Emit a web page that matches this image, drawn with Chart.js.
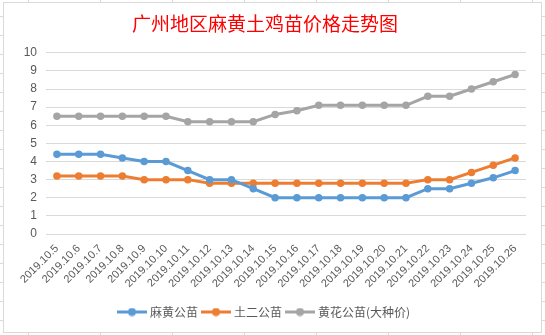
<!DOCTYPE html>
<html>
<head>
<meta charset="utf-8">
<script src="https://cdn.jsdelivr.net/npm/chart.js@4"></script>
<style>
  html, body { margin: 0; padding: 0; background: #ffffff; }
  #wrap { width: 545px; height: 335px; }
</style>
</head>
<body>
<div id="wrap"><canvas id="priceChart" width="545" height="335"></canvas></div>
<script>
// 日期
const dates = ['2019.10.5', '2019.10.6', '2019.10.7', '2019.10.8', '2019.10.9', '2019.10.10',
    '2019.10.11', '2019.10.12', '2019.10.13', '2019.10.14', '2019.10.15', '2019.10.16',
    '2019.10.17', '2019.10.18', '2019.10.19', '2019.10.20', '2019.10.21', '2019.10.22',
    '2019.10.23', '2019.10.24', '2019.10.25', '2019.10.26'];

// 价格 (元/只)
const mahuang = [4.4, 4.4, 4.4, 4.2, 4.0, 4.0, 3.5, 3.0, 3.0, 2.5, 2.0, 2.0,
    2.0, 2.0, 2.0, 2.0, 2.0, 2.5, 2.5, 2.8, 3.1, 3.5];
const tuer = [3.2, 3.2, 3.2, 3.2, 3.0, 3.0, 3.0, 2.8, 2.8, 2.8, 2.8, 2.8,
    2.8, 2.8, 2.8, 2.8, 2.8, 3.0, 3.0, 3.4, 3.8, 4.2];
const huanghua = [6.5, 6.5, 6.5, 6.5, 6.5, 6.5, 6.2, 6.2, 6.2, 6.2, 6.6, 6.8,
    7.1, 7.1, 7.1, 7.1, 7.1, 7.6, 7.6, 8.0, 8.4, 8.8];

const seriesNames = ['麻黄公苗', '土二公苗', '黄花公苗(大种价)'];
const seriesColors = ['#5B9BD5', '#ED7D31', '#A5A5A5'];
const yTicks = [0, 10, 1]; // min, max, step

const cjkFont = '"Noto Sans CJK SC", "Microsoft YaHei", sans-serif';
const gridColor = '#d9d9d9';
const textColor = '#595959';

// legend marker: short line with a dot, like Excel
function legendMarker(color) {
    const c = document.createElement('canvas');
    c.width = 30;
    c.height = 9;
    const ctx = c.getContext('2d');
    ctx.strokeStyle = color;
    ctx.lineWidth = 3;
    ctx.beginPath();
    ctx.moveTo(0, 4.5);
    ctx.lineTo(30, 4.5);
    ctx.stroke();
    ctx.fillStyle = color;
    ctx.beginPath();
    ctx.arc(15, 4.5, 4, 0, Math.PI * 2);
    ctx.fill();
    return c;
}

// spreadsheet background + chart frame
const sheetBackground = {
    id: 'sheetBackground',
    beforeDraw(chart) {
        const ctx = chart.ctx;
        ctx.save();
        ctx.fillStyle = '#ffffff';
        ctx.fillRect(0, 0, chart.width, chart.height);
        ctx.strokeStyle = '#dadada';
        ctx.lineWidth = 1;
        for (let x = 28; x < chart.width; x += 72) {
            ctx.beginPath(); ctx.moveTo(x + 0.5, 0); ctx.lineTo(x + 0.5, chart.height); ctx.stroke();
        }
        for (let y = 16; y < chart.height; y += 19) {
            ctx.beginPath(); ctx.moveTo(0, y + 0.5); ctx.lineTo(chart.width, y + 0.5); ctx.stroke();
        }
        ctx.fillStyle = '#ffffff';
        ctx.fillRect(3, 2, 538, 330);
        ctx.strokeStyle = '#d9d9d9';
        ctx.strokeRect(3.5, 2.5, 538, 330);
        ctx.restore();
    }
};

const datasets = [mahuang, tuer, huanghua].map(function(values, i) {
    return {
        label: seriesNames[i],
        data: values,
        borderColor: seriesColors[i],
        backgroundColor: seriesColors[i],
        borderWidth: 3,
        pointRadius: 3,
        pointBorderWidth: 1.5,
        pointHoverRadius: 3,
        tension: 0
    };
});

new Chart(document.getElementById('priceChart'), {
    type: 'line',
    data: { labels: dates, datasets: datasets },
    plugins: [sheetBackground],
    options: {
        responsive: false,
        animation: false,
        layout: { padding: { left: 4, right: 19, top: 12, bottom: 7 } },
        scales: {
            x: {
                offset: true,
                grid: { display: false, drawTicks: false },
                border: { display: false },
                ticks: {
                    autoSkip: false,
                    maxRotation: 45,
                    minRotation: 45,
                    padding: 8,
                    color: textColor,
                    font: { family: '"Liberation Sans", Arial, sans-serif', size: 11 }
                },
                afterFit: function(scale) { scale.height = 66; }
            },
            y: {
                min: yTicks[0],
                max: yTicks[1],
                ticks: {
                    stepSize: yTicks[2],
                    padding: 9,
                    color: textColor,
                    font: { family: '"Liberation Sans", Arial, sans-serif', size: 12 }
                },
                grid: { color: gridColor, drawTicks: false },
                border: { display: false },
                afterFit: function(scale) { scale.width = 42; }
            }
        },
        plugins: {
            title: {
                display: true,
                text: '广州地区麻黄土鸡苗价格走势图',
                color: '#ff0000',
                font: { family: cjkFont, size: 19, weight: 'normal', lineHeight: 1.2 },
                padding: { top: 0, bottom: 18 }
            },
            legend: {
                position: 'bottom',
                labels: {
                    usePointStyle: true,
                    pointStyleWidth: 24,
                    padding: 6,
                    color: textColor,
                    font: { family: cjkFont, size: 12 },
                    generateLabels: function(chart) {
                        const items = Chart.defaults.plugins.legend.labels.generateLabels(chart);
                        items.forEach(function(item, i) {
                            item.pointStyle = legendMarker(seriesColors[i]);
                        });
                        return items;
                    }
                }
            },
            tooltip: { enabled: false }
        }
    }
});
</script>
</body>
</html>
